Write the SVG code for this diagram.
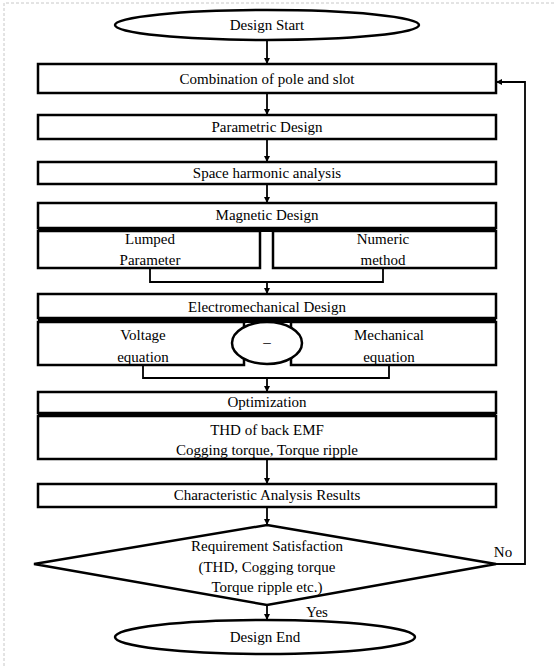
<svg xmlns="http://www.w3.org/2000/svg" width="559" height="667" viewBox="0 0 559 667">
<defs>
<marker id="ah" markerWidth="6" markerHeight="6" refX="5" refY="3" orient="auto" markerUnits="userSpaceOnUse">
<path d="M0,0 L6,3 L0,6 z" fill="#000"/>
</marker>
<style>
.b{fill:#fff;stroke:#000;stroke-width:2.5}
.bar{fill:#000}
.t{font-family:"Liberation Serif","Times New Roman",serif;font-size:15px;fill:#000;text-anchor:middle}
.c{fill:none;stroke:#000;stroke-width:1.8}
.f{fill:none;stroke:#c8c8c8;stroke-width:1;stroke-dasharray:3,2}
</style>
</defs>
<rect width="559" height="667" fill="#fff"/>
<path class="f" d="M4,666 L4,3 L556,3"/>

<g id="connectors">
<line class="c" x1="267" y1="40" x2="267" y2="63" marker-end="url(#ah)"/>
<line class="c" x1="267" y1="93" x2="267" y2="114" marker-end="url(#ah)"/>
<line class="c" x1="267" y1="139" x2="267" y2="161" marker-end="url(#ah)"/>
<line class="c" x1="267" y1="184" x2="267" y2="202" marker-end="url(#ah)"/>
<polyline class="c" points="150,268 150,282 383,282 383,268"/>
<line class="c" x1="267" y1="282" x2="267" y2="293" marker-end="url(#ah)"/>
<polyline class="c" points="143,365 143,378 389,378 389,365"/>
<line class="c" x1="267" y1="378" x2="267" y2="391" marker-end="url(#ah)"/>
<line class="c" x1="267" y1="459" x2="267" y2="483" marker-end="url(#ah)"/>
<line class="c" x1="267" y1="507" x2="267" y2="524" marker-end="url(#ah)"/>
<line class="c" x1="267" y1="605" x2="267" y2="619" marker-end="url(#ah)"/>
<polyline class="c" points="496,564 525,564 525,82 497,82" marker-end="url(#ah)"/>
<text class="t" x="503" y="557">No</text>
<text class="t" x="317" y="617">Yes</text>
</g>

<g id="start">
<ellipse class="b" cx="267" cy="25" rx="152" ry="15"/>
<text class="t" x="267" y="30">Design Start</text>
</g>

<g id="combination">
<rect class="b" x="38" y="64" width="458" height="29"/>
<text class="t" x="267" y="84">Combination of pole and slot</text>
</g>

<g id="parametric">
<rect class="b" x="38" y="115" width="458" height="24"/>
<text class="t" x="267" y="132">Parametric Design</text>
</g>

<g id="space">
<rect class="b" x="38" y="162" width="458" height="22"/>
<text class="t" x="267" y="178">Space harmonic analysis</text>
</g>

<g id="magnetic">
<rect class="b" x="38" y="203" width="458" height="25"/>
<rect class="bar" x="38" y="227" width="458" height="5"/>
<text class="t" x="267" y="220">Magnetic Design</text>
</g>

<g id="lumped">
<rect class="b" x="38" y="231" width="222" height="37"/>
<text class="t" x="150" y="244">Lumped</text>
<text class="t" x="150" y="265">Parameter</text>
</g>

<g id="numeric">
<rect class="b" x="273" y="231" width="223" height="37"/>
<text class="t" x="383" y="244">Numeric</text>
<text class="t" x="383" y="265">method</text>
</g>

<g id="electromechanical">
<rect class="b" x="38" y="294" width="458" height="24"/>
<rect class="bar" x="38" y="317" width="458" height="6"/>
<text class="t" x="267" y="312">Electromechanical Design</text>
</g>

<g id="voltage">
<rect class="b" x="38" y="322" width="206" height="43"/>
<text class="t" x="143" y="340">Voltage</text>
<text class="t" x="143" y="362">equation</text>
</g>

<g id="mechanical">
<rect class="b" x="291" y="322" width="205" height="43"/>
<text class="t" x="389" y="340">Mechanical</text>
<text class="t" x="389" y="362">equation</text>
</g>

<g id="minus">
<ellipse class="b" cx="267" cy="343" rx="35" ry="21"/>
<text class="t" x="267" y="347">–</text>
</g>

<g id="optimization">
<rect class="b" x="38" y="392" width="458" height="21"/>
<rect class="bar" x="38" y="412" width="458" height="5"/>
<text class="t" x="267" y="407">Optimization</text>
</g>

<g id="thd">
<rect class="b" x="38" y="416" width="458" height="43"/>
<text class="t" x="267" y="435">THD of back EMF</text>
<text class="t" x="267" y="455">Cogging torque, Torque ripple</text>
</g>

<g id="characteristic">
<rect class="b" x="38" y="484" width="458" height="23"/>
<text class="t" x="267" y="500">Characteristic Analysis Results</text>
</g>

<g id="requirement">
<polygon class="b" points="267,525 496,564 267,605 34,564"/>
<text class="t" x="267" y="551">Requirement Satisfaction</text>
<text class="t" x="267" y="572">(THD, Cogging torque</text>
<text class="t" x="267" y="592">Torque ripple etc.)</text>
</g>

<g id="end">
<ellipse class="b" cx="265" cy="637" rx="150" ry="17"/>
<text class="t" x="265" y="642">Design End</text>
</g>
</svg>
